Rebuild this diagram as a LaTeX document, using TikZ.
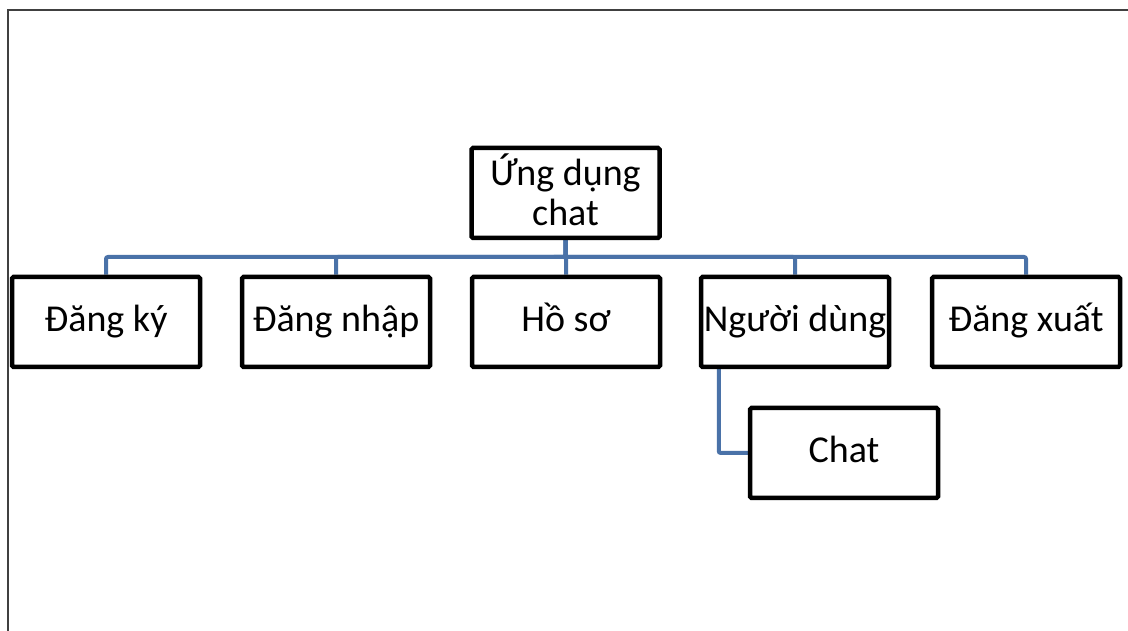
\documentclass[tikz,border=0pt]{standalone}
\usepackage{fontspec}
\setmainfont{Carlito}
\usetikzlibrary{backgrounds}
\begin{document}
\begin{tikzpicture}[x=1pt,y=1pt,
  box/.style={draw=black, line width=4.5pt, rounded corners=1.5pt, fill=white,
    minimum width=188pt, minimum height=90pt, inner sep=2pt,
    font=\fontsize{38}{40}\selectfont},
  oneline/.style={box, text height=28pt, text depth=8pt},
  link/.style={draw={rgb,255:red,74;green,114;blue,168}, line width=4pt, rounded corners=2pt},
  frame/.style={draw={rgb,255:red,64;green,64;blue,64}, line width=2pt}]
  \useasboundingbox (0,0) rectangle (1128,631);
  % page frame (top and left edges)
  \coordinate (ftr) at (1128,621);
  \coordinate (ftl) at (8,621);
  \coordinate (fbl) at (8,0);
  \draw[frame] (ftr) -- (ftl) -- (fbl);

  % boxes
  \node[box] (root) at (565.5,438)
    {\raisebox{0pt}[66pt][0pt]{\begin{tabular}[b]{@{}c@{}}Ứng dụng\\chat\end{tabular}}};
  \node[oneline] (dk) at (106,309) {Đăng ký};
  \node[oneline] (dn) at (336,309) {Đăng nhập};
  \node[oneline] (hs) at (566,309) {Hồ sơ};
  \node[oneline] (nd) at (795,309) {Người dùng};
  \node[oneline] (dx) at (1026,309) {Đăng xuất};
  \node[oneline] (chat) at (844,178) {Chat};

  % connectors behind the boxes
  \coordinate (bus) at (565.5,374);
  \begin{pgfonlayer}{background}
    \foreach \c in {dk,dn,hs,nd,dx}
      \draw[link] (root.south) -- (bus) -| (\c.north);
    \draw[link] ([xshift=20pt]nd.south west) |- (chat.west);
  \end{pgfonlayer}
\end{tikzpicture}
\end{document}
